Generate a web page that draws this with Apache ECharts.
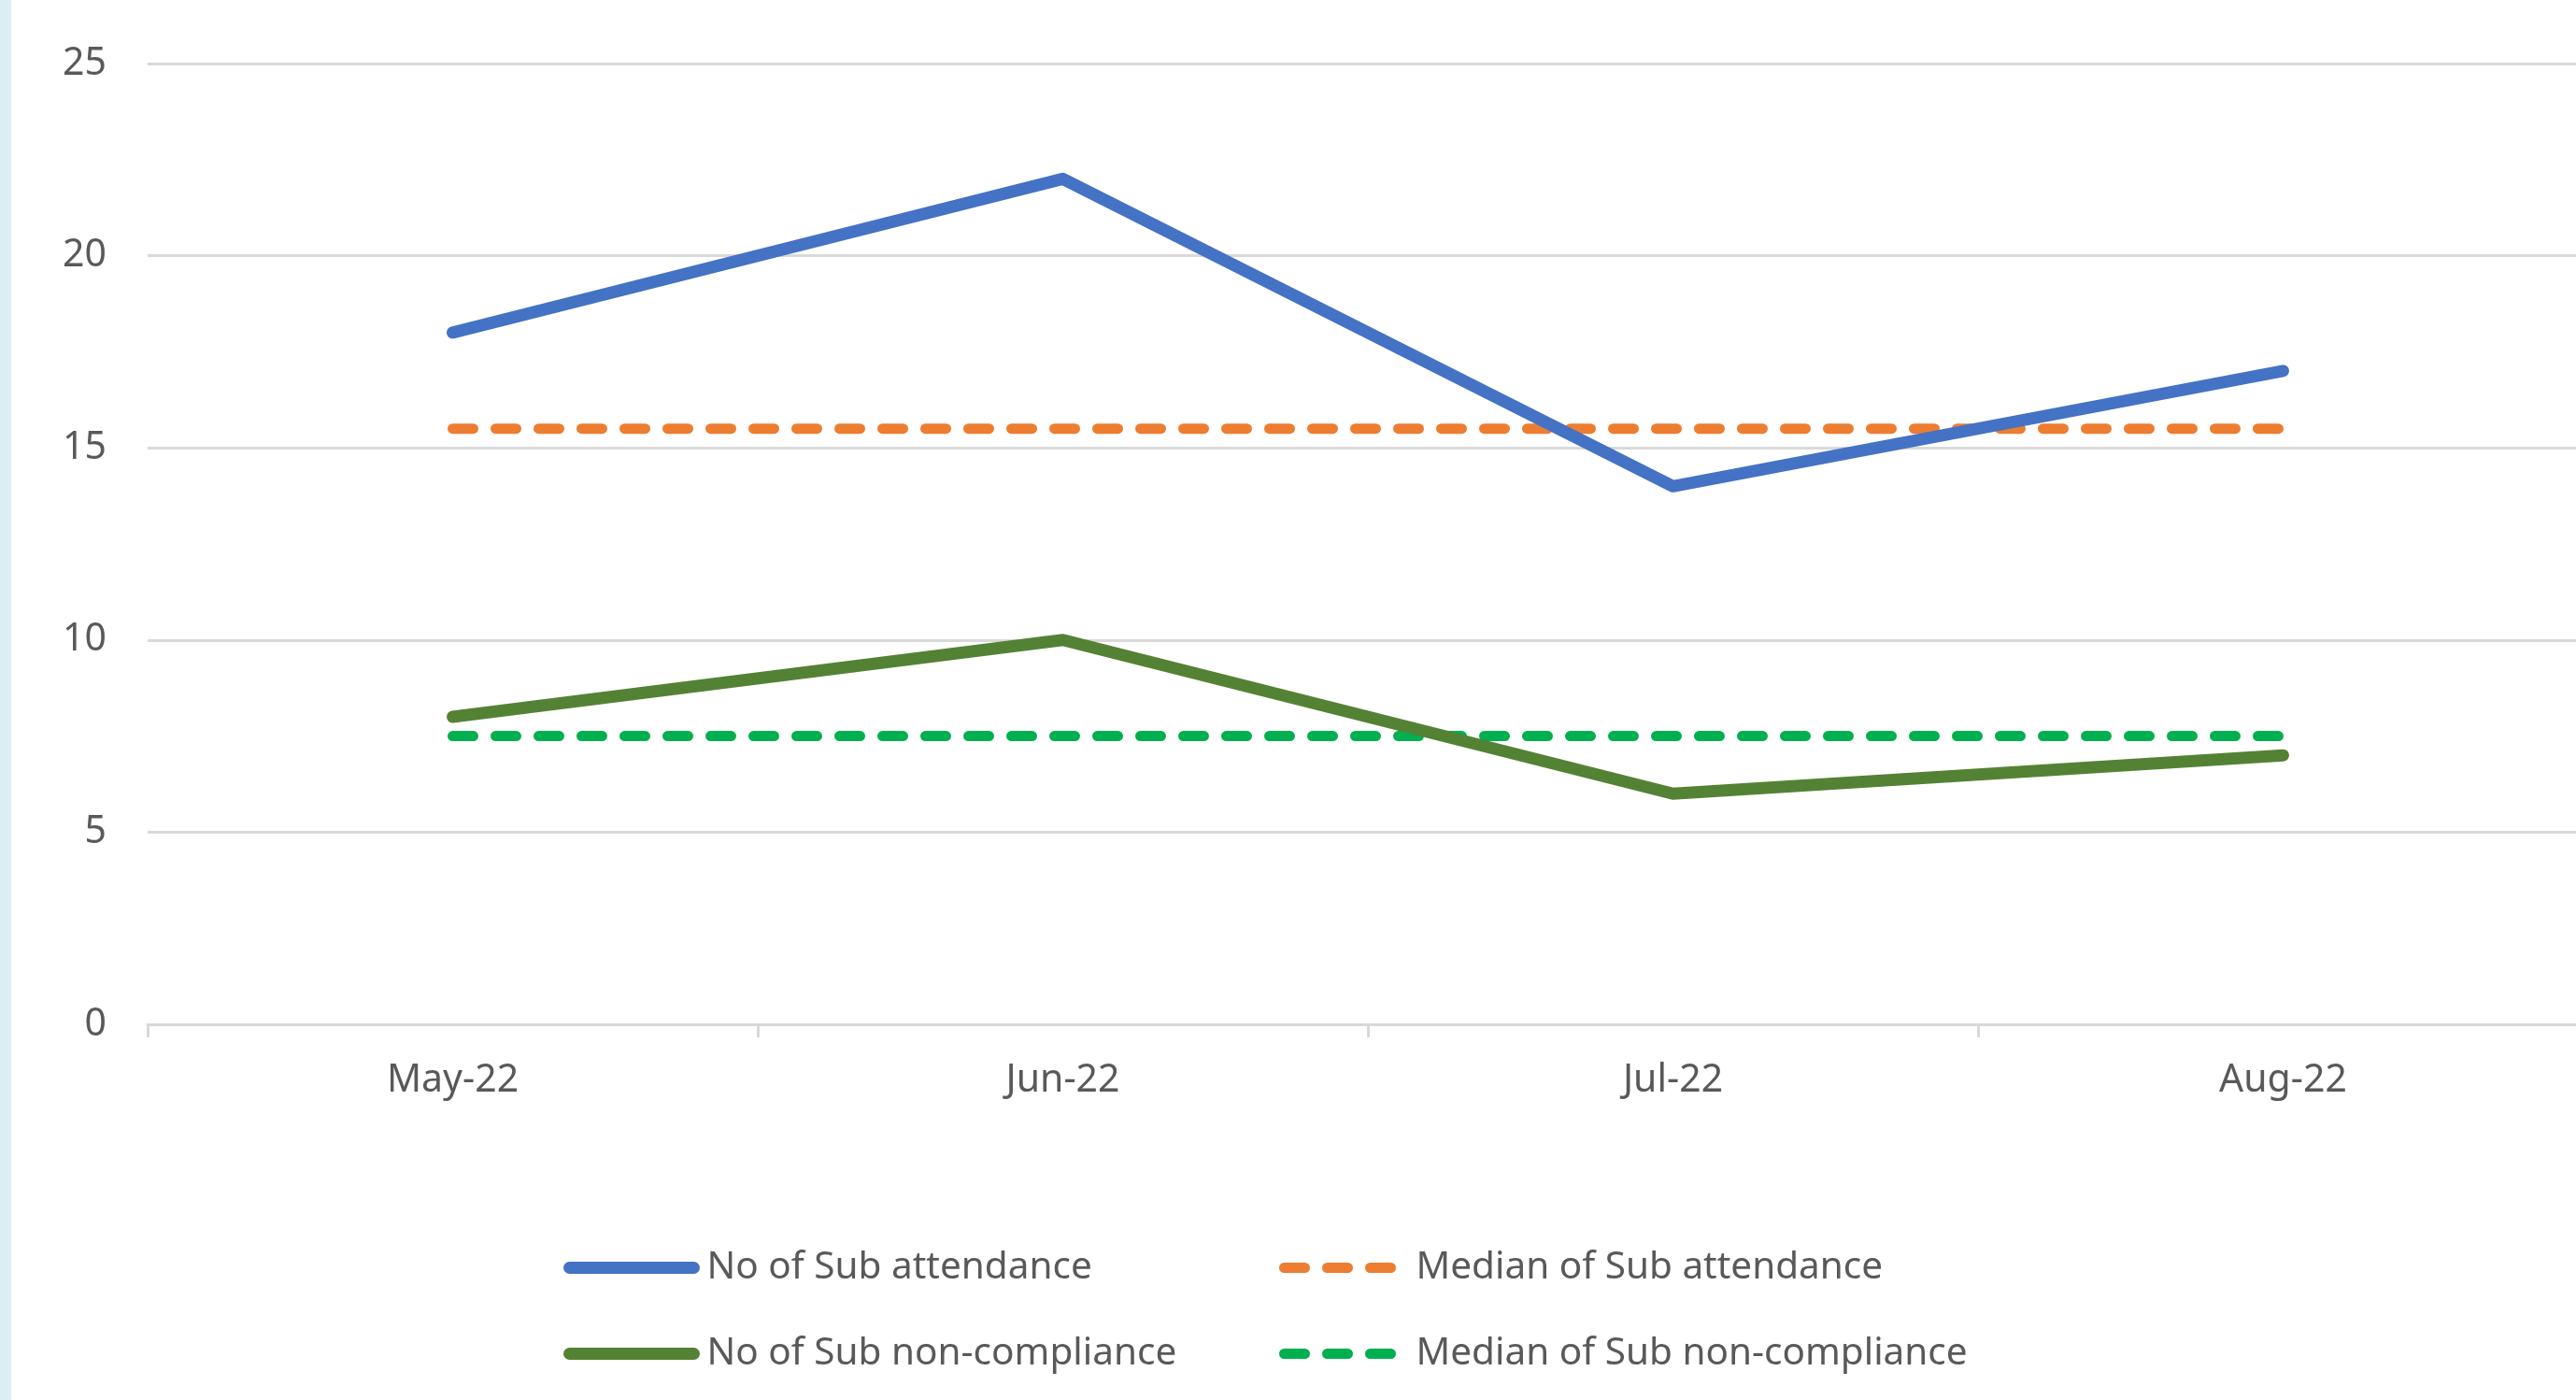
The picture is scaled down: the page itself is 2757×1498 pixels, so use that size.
<!DOCTYPE html>
<html>
<head>
<meta charset="utf-8">
<script src="https://cdn.jsdelivr.net/npm/echarts@6/dist/echarts.min.js"></script>
<style>
html,body{margin:0;padding:0;background:#fff;}
#chart{position:absolute;left:0;top:0;width:2757px;height:1498px;}
#strip{position:absolute;left:0;top:0;width:12px;height:1498px;background:#DBEEF4;z-index:2;}
</style>
</head>
<body>
<div id="chart"></div>
<div id="strip"></div>
<script>
const categories = ['May-22', 'Jun-22', 'Jul-22', 'Aug-22'];
const subAttendance = [18, 22, 14, 17];
const medianAttendance = [15.5, 15.5, 15.5, 15.5];
const subNonCompliance = [8, 10, 6, 7];
const medianNonCompliance = [7.5, 7.5, 7.5, 7.5];
const yTicks = { min: 0, max: 25, interval: 5 };

const FONT = 'Noto Sans';
const TXT = '#595959';

const chart = echarts.init(document.getElementById('chart'), null, { renderer: 'canvas' });

function solid(name, data, color) {
  return {
    name, type: 'line', data, symbol: 'none', smooth: false,
    lineStyle: { color, width: 13, cap: 'round', join: 'round' },
    itemStyle: { color }, z: 3
  };
}
function dashed(name, data, color) {
  return {
    name, type: 'line', data, symbol: 'none',
    lineStyle: { color, width: 11, type: [22, 24], cap: 'round' },
    itemStyle: { color }, z: 2
  };
}

const legendCommon = {
  orient: 'vertical',
  top: 1336,
  padding: 0,
  itemHeight: 41,
  itemGap: 51,
  lineStyle: { width: 'inherit' },
  itemStyle: { color: 'rgba(0,0,0,0)', borderWidth: 0, opacity: 0 },
  selectedMode: false
};

chart.setOption({
  animation: false,
  backgroundColor: '#ffffff',
  grid: {
    left: 158, width: 2612, top: 68, bottom: 1498 - 1096,
    containLabel: false, outerBoundsMode: 'none'
  },
  xAxis: {
    type: 'category',
    data: categories,
    boundaryGap: true,
    axisLine: { show: true, lineStyle: { color: '#D9D9D9', width: 3 } },
    axisTick: { show: true, length: 14, lineStyle: { color: '#D9D9D9', width: 3 } },
    axisLabel: { fontFamily: FONT, fontSize: 41, color: TXT, margin: 40 },
    splitLine: { show: false }
  },
  yAxis: {
    type: 'value',
    min: yTicks.min, max: yTicks.max, interval: yTicks.interval,
    axisLine: { show: false },
    axisTick: { show: false },
    axisLabel: { fontFamily: FONT, fontSize: 41, color: TXT, margin: 44 },
    splitLine: { show: true, lineStyle: { color: '#D9D9D9', width: 3 } }
  },
  legend: [
    Object.assign({}, legendCommon, {
      left: 603, itemWidth: 133,
      textStyle: { fontFamily: FONT, fontSize: 40.5, color: TXT, padding: [0, 0, 0, 9] },
      data: ['No of Sub attendance', 'No of Sub non-compliance']
    }),
    Object.assign({}, legendCommon, {
      left: 1369, itemWidth: 118,
      textStyle: { fontFamily: FONT, fontSize: 40.5, color: TXT, padding: [0, 0, 0, 18] },
      data: ['Median of Sub attendance', 'Median of Sub non-compliance']
    })
  ],
  series: [
    solid('No of Sub attendance', subAttendance, '#4472C4'),
    dashed('Median of Sub attendance', medianAttendance, '#ED7D31'),
    solid('No of Sub non-compliance', subNonCompliance, '#548235'),
    dashed('Median of Sub non-compliance', medianNonCompliance, '#00B050')
  ]
});
</script>
</body>
</html>
